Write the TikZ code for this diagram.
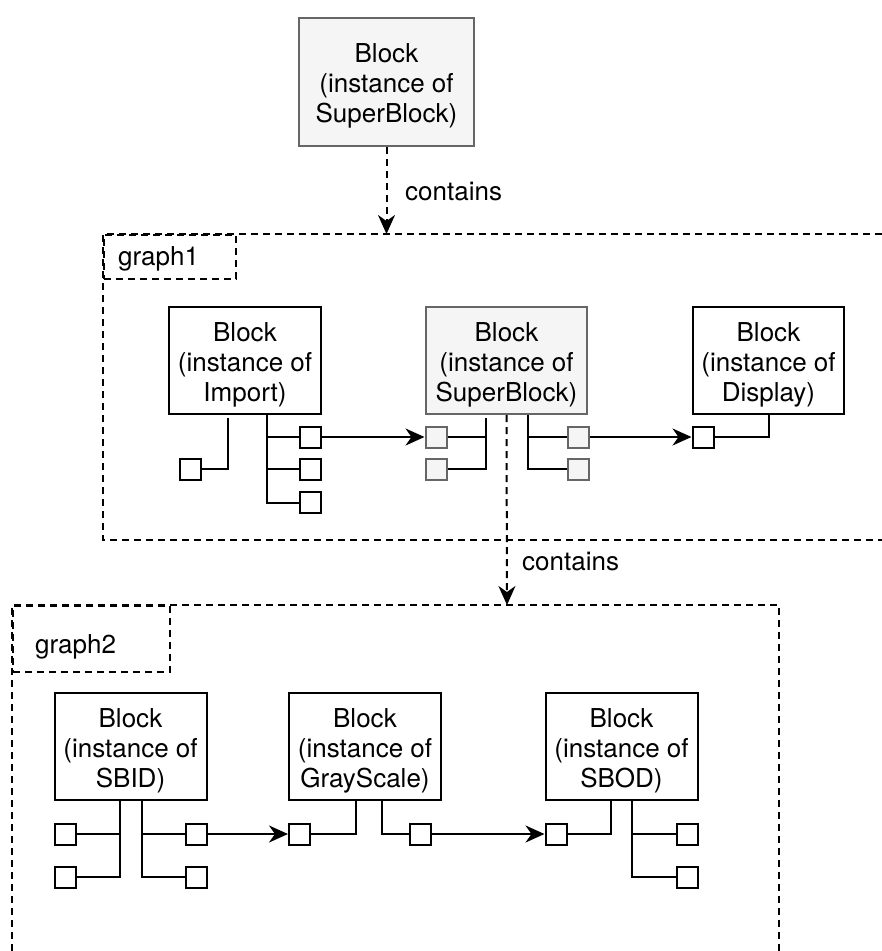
\documentclass[tikz,border=0pt]{standalone}
\usepackage{fontspec}
\setmainfont{TeX Gyre Heros}
\usetikzlibrary{arrows.meta,calc}
\definecolor{gfill}{HTML}{F5F5F5}
\definecolor{gline}{HTML}{666666}
\tikzset{
  blk/.style={draw=black, line width=2pt, minimum width=152pt, minimum height=107pt, inner sep=0pt, fill=white},
  sblk/.style={blk, draw=gline, fill=gfill},
  txt/.style={align=center, inner sep=0pt, font=\fontsize{26pt}{30pt}\selectfont},
  lbltxt/.style={inner sep=0pt, font=\fontsize{26pt}{30pt}\selectfont, anchor=base west},
  port/.style={draw=black, line width=2pt, minimum size=21pt, inner sep=0pt, fill=white},
  gport/.style={port, draw=gline, fill=gfill},
  wire/.style={line width=2pt},
  flow/.style={line width=2pt, -{Stealth[length=19pt, width=17pt, inset=6pt]}},
  cont/.style={line width=2pt, dash pattern=on 7pt off 5pt, -{Stealth[length=19pt, width=17pt, inset=6pt]}},
  frame/.style={line width=2pt, dash pattern=on 7pt off 5pt},
}
\begin{document}
\begin{tikzpicture}[x=1pt, y=-1pt]
\useasboundingbox (0,0) rectangle (882,951);

% ---------- top block ----------
\node[sblk, minimum width=175pt, minimum height=128pt] (top) at (386.5,82) {};
\node[txt] (topt) at ([yshift=-4pt]top.center) {Block\\(instance of\\SuperBlock)};

% ---------- graph1 frame ----------
\coordinate (g1top) at (386.5,234);
\draw[frame] (882,234) -- (103,234) -- (103,540) -- (882,540);
\node[frame, draw, minimum width=132pt, minimum height=44pt, anchor=north west, inner sep=0pt] (g1l) at (103,234) {};
\node[lbltxt] (g1lt) at (118,265) {graph1};

\draw[cont] (top.south) -- (g1top);
\node[lbltxt] (c1) at (405,200) {contains};

% ---------- graph1 blocks ----------
\node[blk] (imp) at (245,360.5) {};
\node[txt] (impt) at ([yshift=-4pt]imp.center) {Block\\(instance of\\Import)};
\node[sblk, minimum width=161pt] (sup) at (506.5,360.5) {};
\node[txt] (supt) at ([yshift=-4pt]sup.center) {Block\\(instance of\\SuperBlock)};
\node[blk, minimum width=151pt] (disp) at (768.5,360.5) {};
\node[txt] (dispt) at ([yshift=-4pt]disp.center) {Block\\(instance of\\Display)};

% Import ports
\node[port] (ipi) at (190.5,469) {};
\node[port] (ipo1) at (310.5,437) {};
\node[port] (ipo2) at (310.5,469) {};
\node[port] (ipo3) at (310.5,502.5) {};
\coordinate (impL) at ([xshift=-17pt, yshift=-3pt]imp.south);
\coordinate (impR) at ([xshift=22pt]imp.south);
\draw[wire] (ipi.east) -| (impL);
\draw[wire] (impR) |- (ipo3.west);
\draw[wire] (ipo1.west) -- (ipo1.west -| impR);
\draw[wire] (ipo2.west) -- (ipo2.west -| impR);

% SuperBlock ports
\node[gport] (spi1) at (436,437) {};
\node[gport] (spi2) at (436,469) {};
\node[gport] (spo1) at (578,437) {};
\node[gport] (spo2) at (578,469) {};
\coordinate (supL) at ([xshift=-20.5pt, yshift=-3pt]sup.south);
\coordinate (supR) at ([xshift=21.5pt]sup.south);
\draw[wire] (supL) |- (spi2.east);
\draw[wire] (spi1.east) -- (spi1.east -| supL);
\draw[wire] (supR) |- (spo2.west);
\draw[wire] (spo1.west) -- (spo1.west -| supR);

% Display port
\node[port] (dpi) at (703,437) {};
\draw[wire] (dpi.east) -| (disp.south);

% flows
\draw[flow] (ipo1.east) -- (spi1.west);
\draw[flow] (spo1.east) -- (dpi.west);

% ---------- graph2 frame ----------
\coordinate (g2top) at (507,605);
\draw[frame] (779,951) -- (779,605) -- (12,605) -- (12,951);
\node[frame, draw, minimum width=157pt, minimum height=66pt, anchor=north west, inner sep=0pt] (g2l) at (12,605) {};
\node[lbltxt] (g2lt) at (35,653) {graph2};

\draw[cont] (sup.south) -- (g2top);
\node[lbltxt] (c2) at (522,570) {contains};

% ---------- graph2 blocks ----------
\node[blk] (sbid) at (130.5,746.5) {};
\node[txt] (sbidt) at ([yshift=-4pt]sbid.center) {Block\\(instance of\\SBID)};
\node[blk] (gray) at (365,746.5) {};
\node[txt] (grayt) at ([yshift=-4pt]gray.center) {Block\\(instance of\\GrayScale)};
\node[blk] (sbod) at (621.5,746.5) {};
\node[txt] (sbodt) at ([yshift=-4pt]sbod.center) {Block\\(instance of\\SBOD)};

% SBID ports
\node[port] (sbi1) at (65.5,834) {};
\node[port] (sbi2) at (65.5,877) {};
\node[port] (sbo1) at (196,834) {};
\node[port] (sbo2) at (196,877) {};
\coordinate (sbidL) at ([xshift=-10.5pt]sbid.south);
\coordinate (sbidR) at ([xshift=11.5pt]sbid.south);
\draw[wire] (sbidL) |- (sbi2.east);
\draw[wire] (sbi1.east) -- (sbi1.east -| sbidL);
\draw[wire] (sbidR) |- (sbo2.west);
\draw[wire] (sbo1.west) -- (sbo1.west -| sbidR);

% GrayScale ports
\node[port] (gsi) at (299.5,834) {};
\node[port] (gso) at (420,834) {};
\coordinate (grayL) at ([xshift=-9pt]gray.south);
\coordinate (grayR) at ([xshift=17pt]gray.south);
\draw[wire] (gsi.east) -| (grayL);
\draw[wire] (grayR) |- (gso.west);

% SBOD ports
\node[port] (soi) at (556,834) {};
\node[port] (soo1) at (687,834) {};
\node[port] (soo2) at (687,877) {};
\coordinate (sbodL) at ([xshift=-10.5pt]sbod.south);
\coordinate (sbodR) at ([xshift=10.5pt]sbod.south);
\draw[wire] (soi.east) -| (sbodL);
\draw[wire] (sbodR) |- (soo2.west);
\draw[wire] (soo1.west) -- (soo1.west -| sbodR);

% flows
\draw[flow] (sbo1.east) -- (gsi.west);
\draw[flow] (gso.east) -- (soi.west);
\end{tikzpicture}
\end{document}
